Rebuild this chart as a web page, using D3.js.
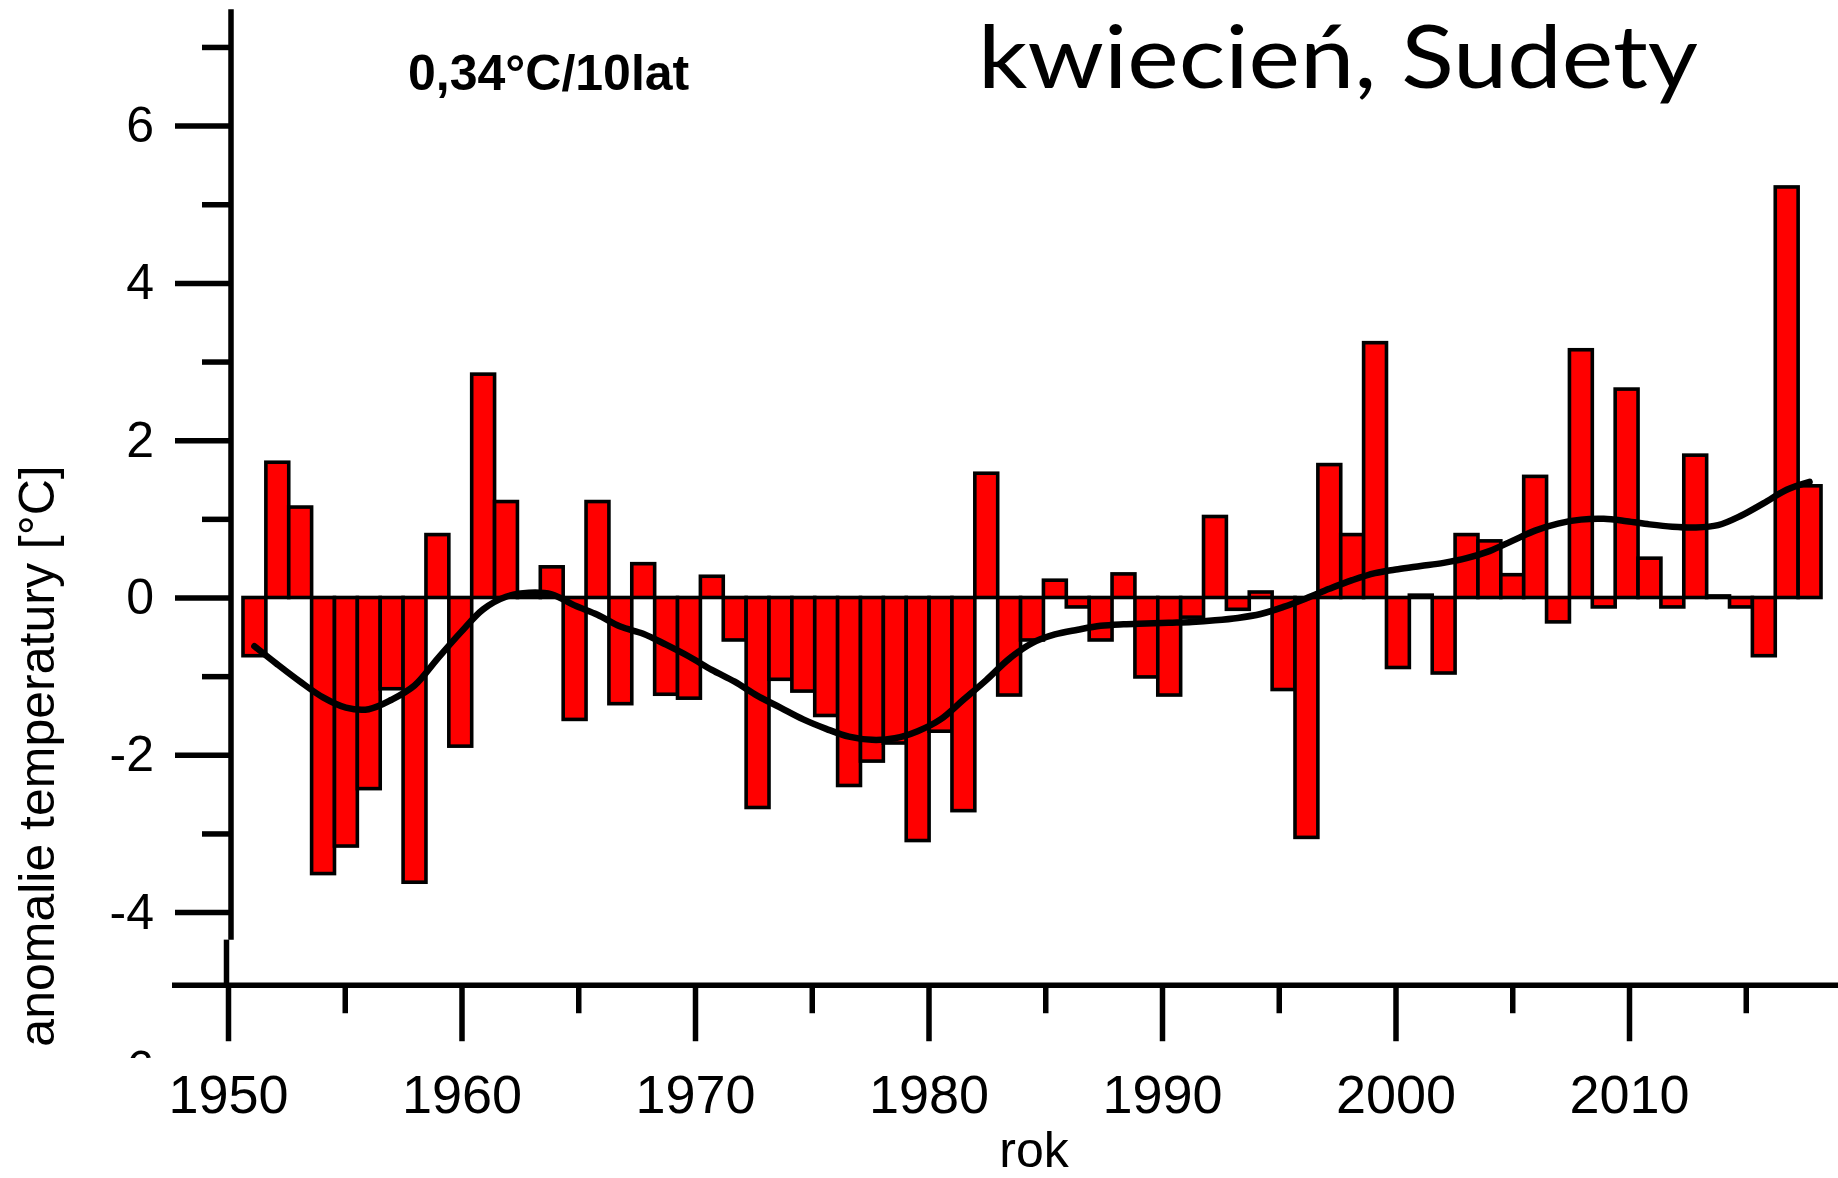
<!DOCTYPE html>
<html>
<head>
<meta charset="utf-8">
<script src="https://cdn.jsdelivr.net/npm/d3@7"></script>
<style>
  html, body { margin: 0; padding: 0; background: #ffffff; }
  svg { display: block; }
</style>
</head>
<body>
<svg id="chart" width="1838" height="1178"></svg>
<script>
// ---------------- DATA ----------------
const years = [1951,1952,1953,1954,1955,1956,1957,1958,1959,1960,
               1961,1962,1963,1964,1965,1966,1967,1968,1969,1970,
               1971,1972,1973,1974,1975,1976,1977,1978,1979,1980,
               1981,1982,1983,1984,1985,1986,1987,1988,1989,1990,
               1991,1992,1993,1994,1995,1996,1997,1998,1999,2000,
               2001,2002,2003,2004,2005,2006,2007,2008,2009,2010,
               2011,2012,2013,2014,2015,2016,2017,2018,2019];

const anomalies = [-0.74, 1.72, 1.15,-3.51,-3.16,-2.43,-1.16,-3.62, 0.80,-1.89,
                    2.84, 1.22, 0.02, 0.39,-1.55, 1.22,-1.35, 0.43,-1.23,-1.28,
                    0.27,-0.54,-2.67,-1.04,-1.19,-1.50,-2.39,-2.08,-1.85,-3.09,
                   -1.70,-2.71, 1.58,-1.24,-0.54, 0.22,-0.12,-0.54, 0.30,-1.01,
                   -1.24,-0.25, 1.03,-0.15, 0.07,-1.17,-3.05, 1.69, 0.80, 3.24,
                   -0.89, 0.03,-0.96, 0.80, 0.72, 0.29, 1.54,-0.31, 3.15,-0.12,
                    2.65, 0.50,-0.12, 1.81, 0.02,-0.12,-0.74, 5.22, 1.42];

const trend = [-0.62,-0.85,-1.07,-1.27,-1.40,-1.42,-1.30,-1.12,-0.78,-0.45,
               -0.15, 0.01, 0.06, 0.04,-0.10,-0.22,-0.37,-0.46,-0.60,-0.75,
               -0.92,-1.07,-1.25,-1.40,-1.55,-1.67,-1.77,-1.81,-1.79,-1.70,
               -1.55,-1.30,-1.05,-0.78,-0.58,-0.47,-0.41,-0.36,-0.34,-0.33,
               -0.32,-0.31,-0.29,-0.26,-0.21,-0.12,-0.01, 0.11, 0.22, 0.31,
                0.36, 0.40, 0.44, 0.50, 0.59, 0.72, 0.85, 0.94, 0.99, 1.00,
                0.97, 0.93, 0.90, 0.89, 0.92, 1.04, 1.20, 1.37, 1.47];

const yMajorTicks = [-6, -4, -2, 0, 2, 4, 6];
const yMinorTicks = [-3, -1, 1, 3, 5, 7];
const xMajorTicks = [1950, 1960, 1970, 1980, 1990, 2000, 2010];
const xMinorTicks = [1955, 1965, 1975, 1985, 1995, 2005, 2015];

const titleText = "kwiecień, Sudety";
const trendText = "0,34°C/10lat";
const yTitle = "anomalie temperatury [°C]";
const xTitle = "rok";

// ---------------- LAYOUT ----------------
const svg = d3.select("#chart");
const FONT = "'Liberation Sans', Arial, Helvetica, sans-serif";

const y = d3.scaleLinear().domain([-4, 6]).range([912.1, 125.6]);
const xAxisScale = d3.scaleLinear().domain([1950, 2010]).range([228, 1629]);
const xBand = d3.scaleBand().domain(years).range([243, 1821]).padding(0);
const bw = xBand.bandwidth();

const yAxisX = 231;
const xAxisY = y(-4.93);
const AXW = 5.5;

// ---------------- BARS ----------------
svg.append("g")
  .selectAll("rect")
  .data(years.map((yr, i) => ({ yr, v: anomalies[i] })))
  .join("rect")
  .attr("x", d => xBand(d.yr))
  .attr("width", bw)
  .attr("y", d => y(Math.max(0, d.v)))
  .attr("height", d => Math.abs(y(d.v) - y(0)))
  .attr("fill", "#ff0000")
  .attr("stroke", "#000")
  .attr("stroke-width", 3.6);

// ---------------- TREND LINE ----------------
const line = d3.line()
  .x(d => xBand(d.yr) + bw / 2)
  .y(d => y(d.v))
  .curve(d3.curveCatmullRom);

svg.append("path")
  .datum(years.map((yr, i) => ({ yr, v: trend[i] })))
  .attr("d", line)
  .attr("fill", "none")
  .attr("stroke", "#000")
  .attr("stroke-width", 6.5)
  .attr("stroke-linecap", "round");

// ---------------- Y AXIS ----------------
// clip (in the axis group's own coordinates) hides everything below y = 1058,
// so only the top sliver of the "-6" label is visible, as in the original
svg.append("clipPath").attr("id", "yclip")
  .append("rect").attr("x", -240).attr("y", 0).attr("width", 260).attr("height", 1058);

const yMajor = svg.append("g")
  .attr("transform", `translate(${yAxisX},0)`)
  .attr("clip-path", "url(#yclip)")
  .call(d3.axisLeft(y).tickValues(yMajorTicks).tickSize(56).tickPadding(21)
        .tickFormat(d => String(d)));
yMajor.select(".domain").remove();
yMajor.selectAll("line").attr("stroke", "#000").attr("stroke-width", AXW);
yMajor.selectAll("text").attr("font-family", FONT).attr("font-size", 50).attr("fill", "#000");

const yMinor = svg.append("g")
  .attr("transform", `translate(${yAxisX},0)`)
  .call(d3.axisLeft(y).tickValues(yMinorTicks).tickSize(29).tickFormat(""));
yMinor.select(".domain").remove();
yMinor.selectAll("line").attr("stroke", "#000").attr("stroke-width", AXW);

// axis line (with the small offset piece at the bottom)
svg.append("line")
  .attr("x1", yAxisX).attr("x2", yAxisX)
  .attr("y1", y(7.48)).attr("y2", y(-4.35))
  .attr("stroke", "#000").attr("stroke-width", AXW);
svg.append("line")
  .attr("x1", yAxisX - 4.5).attr("x2", yAxisX - 4.5)
  .attr("y1", y(-4.35)).attr("y2", xAxisY)
  .attr("stroke", "#000").attr("stroke-width", AXW);

// ---------------- X AXIS ----------------
const xMajor = svg.append("g")
  .attr("transform", `translate(0,${xAxisY})`)
  .call(d3.axisBottom(xAxisScale).tickValues(xMajorTicks).tickSize(56).tickPadding(33)
        .tickFormat(d3.format("d")));
xMajor.select(".domain").remove();
xMajor.selectAll("line").attr("stroke", "#000").attr("stroke-width", AXW);
xMajor.selectAll("text").attr("font-family", FONT).attr("font-size", 54).attr("fill", "#000");

const xMinor = svg.append("g")
  .attr("transform", `translate(0,${xAxisY})`)
  .call(d3.axisBottom(xAxisScale).tickValues(xMinorTicks).tickSize(28).tickFormat(""));
xMinor.select(".domain").remove();
xMinor.selectAll("line").attr("stroke", "#000").attr("stroke-width", AXW);

svg.append("line")
  .attr("x1", 172).attr("x2", 1838)
  .attr("y1", xAxisY).attr("y2", xAxisY)
  .attr("stroke", "#000").attr("stroke-width", AXW);

// ---------------- TEXTS ----------------
svg.append("text")
  .attr("x", 1034).attr("y", 1167)
  .attr("text-anchor", "middle")
  .attr("font-family", FONT).attr("font-size", 50)
  .text(xTitle);

svg.append("text")
  .attr("transform", "translate(54,756) rotate(-90)")
  .attr("text-anchor", "middle")
  .attr("font-family", FONT).attr("font-size", 50)
  .text(yTitle);

svg.append("text")
  .attr("x", 408).attr("y", 90)
  .attr("font-family", FONT).attr("font-size", 50).attr("font-weight", "bold")
  .text(trendText);

svg.append("text")
  .attr("x", 978).attr("y", 88)
  .attr("font-family", "Lato, 'Open Sans', sans-serif").attr("font-size", 88)
  .attr("textLength", 720).attr("lengthAdjust", "spacingAndGlyphs")
  .text(titleText);
</script>
</body>
</html>
